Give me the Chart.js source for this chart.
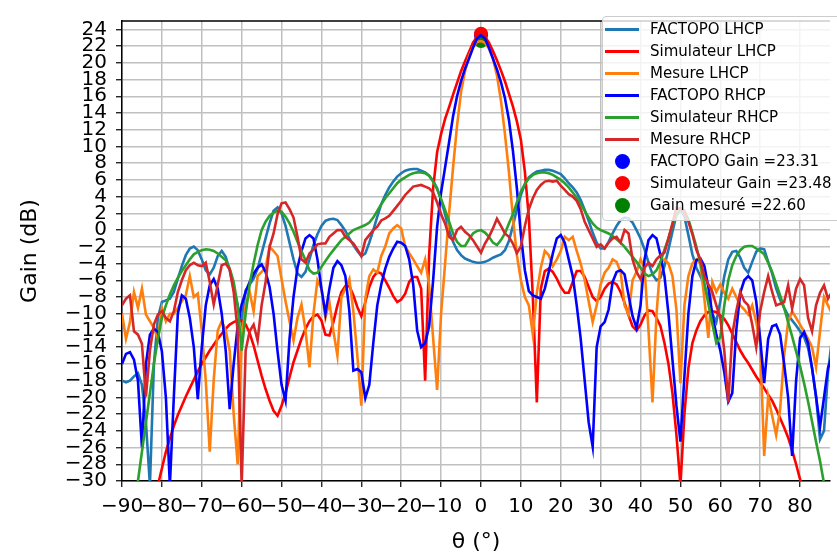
<!DOCTYPE html>
<html>
<head>
<meta charset="utf-8">
<title>Gain vs theta</title>
<script src="https://cdn.jsdelivr.net/npm/chart.js@4.4.1/dist/chart.umd.min.js"></script>
<style>
  html, body { margin: 0; padding: 0; background: #fff; overflow: hidden; }
  #wrap { position: relative; width: 837px; height: 555px; overflow: hidden; }
  #legend {
    position: absolute; left: 602px; top: 16px; width: 260px;
    padding: 1px 0 4px 0;
    background: rgba(255,255,255,0.8);
    border: 1px solid #cccccc; border-radius: 4px;
    font-family: 'DejaVu Sans', sans-serif; font-size: 15px; color: #000;
  }
  #legend .row { height: 22px; display: flex; align-items: center; white-space: nowrap; }
  #legend .handle { position: relative; width: 34px; height: 22px; margin-left: 2px; flex: none; }
  #legend .line { position: absolute; left: 0; right: 0; top: 10px; height: 2.7px; }
  #legend .dot { position: absolute; left: 10px; top: 4px; width: 15px; height: 15px; border-radius: 50%; }
  #legend .txt { margin-left: 11px; }
</style>
</head>
<body>
<div id="wrap">
  <canvas id="gainChart" width="837" height="555"></canvas>
  <div id="legend"></div>
</div>
<script>
// ---- data ----
const theta = [
  -90,-89,-88,-87,-86,-85,-84,-83,-82,-81,
  -80,-79,-78,-77,-76,-75,-74,-73,-72,-71,
  -70,-69,-68,-67,-66,-65,-64,-63,-62,-61,
  -60,-59,-58,-57,-56,-55,-54,-53,-52,-51,
  -50,-49,-48,-47,-46,-45,-44,-43,-42,-41,
  -40,-39,-38,-37,-36,-35,-34,-33,-32,-31,
  -30,-29,-28,-27,-26,-25,-24,-23,-22,-21,
  -20,-19,-18,-17,-16,-15,-14,-13,-12,-11,
  -10,-9,-8,-7,-6,-5,-4,-3,-2,-1,
  0,1,2,3,4,5,6,7,8,9,
  10,11,12,13,14,15,16,17,18,19,
  20,21,22,23,24,25,26,27,28,29,
  30,31,32,33,34,35,36,37,38,39,
  40,41,42,43,44,45,46,47,48,49,
  50,51,52,53,54,55,56,57,58,59,
  60,61,62,63,64,65,66,67,68,69,
  70,71,72,73,74,75,76,77,78,79,
  80,81,82,83,84,85,86,87,88
];

const factopoLhcp = [
  -18,-18.2,-18,-17.5,-17.1,-18.5,-23,-30.5,-16,-10.5,
  -8.6,-8.4,-8.2,-7.4,-5.8,-4.3,-3,-2.2,-1.96,-2.4,
  -3.5,-4.8,-5.3,-4.5,-3.1,-2.5,-3.2,-4.8,-7,-9,
  -11,-7.2,-6.5,-5.8,-4.6,-2.8,-1,0.8,2.3,2.7,
  2,0.5,-1.5,-3.5,-5.2,-5.6,-5,-3.5,-1.8,-0.5,
  0.5,1.1,1.3,1.35,1.2,0.6,-0.1,-1,-1.8,-2.5,
  -3.1,-2.8,-1.5,0,1.6,3.1,4.2,5.1,5.8,6.4,
  6.8,7.1,7.25,7.3,7.3,7.1,6.9,6.5,5.9,5,
  3.6,1.9,0,-1.4,-2.4,-3,-3.4,-3.6,-3.8,-3.9,
  -3.9,-3.8,-3.6,-3.3,-3.1,-2.9,-2.4,-1.3,0.5,2.5,
  4.2,5.5,6.3,6.7,7,7.1,7.2,7.2,7.1,6.9,
  6.7,6.2,5.6,5.1,4.5,3.6,2.4,1.1,-0.3,-1.5,
  -2.2,-2.2,-1.4,-0.4,0.5,1.2,1.5,1.4,0.9,0,
  -1,-2.3,-3.9,-5.3,-6,-5.7,-4.3,-2.3,-0.2,1.8,
  2.6,1.6,-0.6,-2.9,-4.5,-5.5,-6.6,-8.3,-10,-11,
  -8.5,-5.5,-3.5,-2.6,-2.5,-3.3,-4.5,-5.1,-3.8,-2.6,
  -2.2,-2.3,-3.8,-5.2,-7,-8.3,-9.3,-10.2,-10.8,-11.4,
  -12.1,-12.8,-14.1,-16.5,-19.9,-25,-24,-17,-13
];

const simLhcp = [
  -40,-39,-38,-37,-36,-35,-34,-33,-32,-30.5,
  -28.5,-26.5,-24.9,-23.4,-22.1,-21,-19.9,-18.9,-17.9,-16.9,
  -16,-15.2,-14.4,-13.7,-13,-12.4,-11.8,-11.3,-11,-10.8,
  -10.8,-11.3,-12.3,-13.8,-15.6,-17.4,-19,-20.4,-21.6,-22.2,
  -21,-19.5,-17.6,-15.8,-14.4,-13,-11.8,-10.9,-10.3,-10.1,
  -10.8,-12.5,-12.6,-11,-9,-7.4,-6.7,-6.7,-7.8,-9.2,
  -10.3,-8.6,-6.8,-5.6,-5,-5.2,-6,-6.9,-7.9,-8.6,
  -8.3,-7.6,-6.2,-5.6,-5.6,-7,-18,-3,5,9.3,
  11.5,13.3,14.7,16.2,17.6,19,20.2,21.3,22.4,23.1,
  23.5,23.1,22.4,21.4,20.3,19.1,17.8,16.3,14.8,13,
  10.8,7,1.5,-8,-20.6,-7,-4.9,-4.6,-5,-5.8,
  -6.8,-7.5,-7.5,-6.2,-4.9,-4.9,-5.6,-6.8,-8,-8.5,
  -8,-7,-6.4,-6.2,-6.5,-7.4,-8.7,-10.2,-11.5,-12,
  -11.3,-10.2,-9.6,-9.7,-10.5,-11.5,-13.5,-16,-19.5,-24.5,
  -30.5,-22,-16.5,-13.5,-12,-10.9,-10.2,-9.8,-9.7,-9.8,
  -10.2,-10.6,-11.4,-12.4,-13.4,-14.4,-15.2,-15.9,-16.7,-17.5,
  -18.2,-18.9,-19.7,-20.4,-21.4,-22.5,-23.6,-24.8,-26.3,-28,
  -29.8,-31.5,-33,-34.5,-36,-37.5,-39,-40,-41
];

const mesLhcp = [
  -10,-13,-11,-7.4,-9.3,-7,-10.1,-10.9,-11.7,-13,
  -9.3,-10.9,-10,-10,-9.3,-8.5,-7.8,-5.5,-8,-7.6,
  -12,-18,-26.5,-17.9,-12,-10.9,-12,-14.4,-22,-28,
  -13,-9,-7.4,-9.7,-5.5,-5,-4.5,-2,-2.5,-3.1,
  -5.85,-8.5,-10.9,-13.2,-10.5,-8.9,-12,-16.4,-10,-6,
  -7,-10.5,-8.6,-12.1,-15,-8,-7,-5.85,-9.7,-15,
  -21,-8.2,-5.5,-4.7,-5.1,-3.1,-1.96,-0.4,0.2,0.6,
  0.2,-1.96,-2.75,-3.5,-4.3,-5.1,-3.5,-6.6,-12.9,-19.1,
  -10,-4,2,7.5,12.5,16.5,19,20.8,21.9,22.5,
  22.6,22.4,21.7,20.5,18.5,15.5,11.5,7,1.5,-3,
  -6,-8,-9,-12.5,-7.5,-4.5,-2.5,-3,-4.3,-3.5,
  -2.5,-0.8,-1.2,-0.8,-2.5,-4,-6,-8.5,-11,-9,
  -6.5,-5.1,-4.5,-3.5,-3.8,-5,-9,-10.1,-6,-5,
  -3.5,-4.5,-12,-20.6,-10.1,-3.9,-3.5,-4,-5.5,-9.5,
  -18.3,-9,-5.5,-4,-3.5,-4,-8.2,-12.9,-6.2,-7.4,
  -6.5,-7.5,-8.2,-7,-8,-9,-9.5,-10.1,-9,-11,
  -13.6,-27,-19.9,-22.2,-24.5,-21.4,-15,-11,-9.7,-10.5,
  -11.3,-12.1,-13,-14,-16.4,-12.1,-8,-9,-10
];

const factopoRhcp = [
  -16,-14.8,-14.6,-15.5,-18,-26,-16,-12.5,-11.8,-12.2,
  -14.5,-20,-30.5,-19.9,-10,-7.8,-8.2,-10.5,-14,-20.2,
  -14,-9,-6.6,-5.85,-7,-10,-14.4,-21.4,-16,-11.5,
  -8.9,-7.4,-6.2,-5.2,-4.5,-4.1,-5,-6.8,-10,-14.5,
  -18.5,-20.4,-13,-8,-4.5,-2.5,-1,-0.6,-1,-3.5,
  -7,-10,-7,-4.5,-3.7,-4.2,-5.5,-9.7,-16.8,-16.6,
  -17,-20.1,-18.5,-13.5,-9,-6.5,-4.6,-3.2,-2.2,-1.4,
  -1.5,-1.9,-3.5,-6.5,-12,-14,-13.5,-11.5,-6,0.4,
  4.5,7.5,10.5,13.6,16,17.8,19.3,20.5,21.8,22.9,
  23.3,22.9,21.8,20.5,19.2,17.7,15.8,13.2,9.5,5,
  -0.5,-4.8,-7.3,-7.8,-8,-8.2,-7,-5,-2.8,-1,
  -0.6,-1.5,-3.5,-5.5,-9,-13,-18,-23,-25.9,-14,
  -11.5,-11,-9.5,-6.2,-5,-4.8,-5.3,-7.8,-10.3,-11.7,
  -9,-3.5,-1.2,-0.6,-1,-3,-5.5,-10,-15.5,-21,
  -25.3,-17.5,-10,-5.5,-3.6,-3.4,-4.3,-6.8,-10.1,-12.5,
  -14.4,-17,-20.5,-19.5,-12,-7.5,-6,-5.5,-6,-8.5,
  -13,-18.3,-13,-11.5,-11.3,-12.5,-16,-20,-27,-18,
  -12.9,-12.2,-13.5,-16.5,-19.9,-23.5,-20,-16.5,-15
];

const simRhcp = [
  -44,-41,-38,-34,-30,-26.5,-23,-19.5,-16,-13,
  -10.5,-9,-7.7,-6.6,-5.7,-4.9,-4.2,-3.5,-2.9,-2.6,
  -2.4,-2.3,-2.35,-2.5,-2.8,-3.2,-3.6,-4.6,-6.2,-9,
  -14.4,-10,-6.5,-4,-1.8,0,1,1.7,2.1,2.3,
  2.2,1.6,0.8,-0.2,-1.4,-2.5,-3.6,-4.8,-5.2,-5.1,
  -4.4,-3.7,-3,-2.4,-1.8,-1.2,-0.8,-0.4,0,0.2,
  0.4,0.6,0.9,1.5,2.3,3.1,3.8,4.4,5,5.6,
  6,6.3,6.6,6.8,6.9,6.9,6.8,6.5,5.8,4.9,
  3.7,2.4,1,-0.4,-1.4,-1.9,-1.9,-1.1,-0.4,-0.1,
  0,-0.3,-0.8,-1.5,-1.8,-1.2,-0.4,0.8,1.9,3.3,
  4.6,5.5,6.2,6.6,6.8,6.9,6.9,6.8,6.6,6.3,
  6,5.6,5.1,4.5,3.9,3.1,2.3,1.5,0.8,0.3,
  0,-0.2,-0.4,-0.7,-1.1,-1.5,-2,-2.6,-3.2,-3.8,
  -4.5,-5.2,-5.5,-5.3,-4.8,-3.8,-2.35,-1,0.6,1.8,
  2.3,2.2,1.3,-0.3,-2,-4,-6.3,-8.8,-11.2,-13.5,
  -12.8,-9,-6,-4.2,-3.1,-2.4,-2,-1.9,-1.9,-2.2,
  -2.5,-2.9,-3.9,-5,-6.4,-7.8,-9.3,-11,-12.7,-14.5,
  -16.3,-18.3,-20.5,-22.9,-25.3,-27.6,-30.3,-33,-36
];

const mesRhcp = [
  -9,-8.2,-7.8,-12.1,-12.5,-13.6,-19.9,-14.4,-11.3,-10.1,
  -9.7,-10.5,-10.9,-9.7,-7.4,-6,-4.8,-4.2,-3.9,-4.2,
  -4.3,-3.9,-6.2,-8.9,-6.5,-4.2,-4,-4.7,-7.4,-12.1,
  -30.5,-14.4,-12.1,-11.3,-13.2,-9,-6.2,-2,-0.4,1.9,
  3.2,3.3,2.5,1.5,-0.8,-3.5,-3.9,-2.8,-2.35,-1.7,
  -1.6,-1.6,-0.8,-0.4,0,0,-0.8,-1.2,-1.6,-2.3,
  -3.1,-1.2,-0.6,0,0.4,1.15,1.4,1.7,2.3,2.9,
  3.5,4.2,4.7,5.2,5.3,5.4,5.2,5,4.5,3.3,
  1.9,0.8,-0.8,-1.2,0,0.4,-0.2,-0.6,-1.2,-1.96,
  -2.7,-1.6,-0.8,0.2,1.35,0.5,-0.4,-0.8,-1.6,-2.75,
  -1.96,0.5,2.5,3.8,4.8,5.4,5.8,5.9,5.8,5.9,
  5.3,4.8,4.3,4,3.5,2.5,1,0,-1,-2,
  -1.7,-2.2,-1.5,-1,-0.8,-1.5,0,-0.4,-3.5,-5,
  -5.85,-4.5,-3.9,-4.3,-3.5,-3,-2.7,-1,0.8,2.7,
  2.5,2.3,1,-0.5,-2.35,-3.5,-5.5,-6.5,-7.4,-9,
  -10.5,-14.4,-20.6,-12.5,-9.7,-7.4,-8.5,-9,-11.3,-14,
  -9.7,-7.4,-5.5,-7.4,-9,-8.8,-8.6,-6.6,-9.4,-7,
  -5.85,-6.6,-10.5,-12.1,-9,-7.5,-6.6,-8.2,-7.4
];

// peak gains at theta = 0
const gainLabels = ['FACTOPO Gain =23.31', 'Simulateur Gain =23.48', 'Gain mesuré =22.60'];
const gainValues = [23.31, 23.48, 22.60];
const gainColors = ['#0000ff', '#ff0000', '#008000'];

// axis ticks
const xTicks = [-90,-80,-70,-60,-50,-40,-30,-20,-10,0,10,20,30,40,50,60,70,80];
const yTicks = [-30,-28,-26,-24,-22,-20,-18,-16,-14,-12,-10,-8,-6,-4,-2,0,2,4,6,8,10,12,14,16,18,20,22,24];

const curves = [
  { label: 'FACTOPO LHCP', values: factopoLhcp, color: '#1f77b4' },
  { label: 'Simulateur LHCP', values: simLhcp, color: '#ff0000' },
  { label: 'Mesure LHCP', values: mesLhcp, color: '#ff7f0e' },
  { label: 'FACTOPO RHCP', values: factopoRhcp, color: '#0000ff' },
  { label: 'Simulateur RHCP', values: simRhcp, color: '#2ca02c' },
  { label: 'Mesure RHCP', values: mesRhcp, color: '#d62728' }
];

// ---- build datasets ----
const datasets = [];
curves.forEach((c, i) => {
  datasets.push({
    label: c.label,
    data: theta.map((t, k) => ({ x: t, y: c.values[k] })),
    borderColor: c.color,
    backgroundColor: c.color,
    borderWidth: 2.6,
    pointRadius: 0,
    tension: 0,
    clip: 0,
    order: 20 - i,
    kind: 'line'
  });
});
// gain markers sit under the curves
gainValues.forEach((g, i) => {
  datasets.push({
    label: gainLabels[i],
    data: [{ x: 0, y: g }],
    showLine: false,
    pointRadius: 7,
    pointBorderWidth: 0,
    pointBackgroundColor: gainColors[i],
    borderColor: gainColors[i],
    backgroundColor: gainColors[i],
    clip: false,
    order: 40 - i,
    kind: 'dot'
  });
});

const minus = v => (v < 0 ? '\u2212' + Math.abs(v) : String(v));

// draws the top spine of the frame
const frameTop = {
  id: 'frameTop',
  afterDatasetsDraw(chart) {
    const { ctx, chartArea } = chart;
    ctx.save();
    ctx.strokeStyle = '#000';
    ctx.lineWidth = 1.5;
    ctx.beginPath();
    ctx.moveTo(chartArea.left, chartArea.top);
    ctx.lineTo(chartArea.right, chartArea.top);
    ctx.stroke();
    ctx.restore();
  }
};

Chart.defaults.font.family = "'DejaVu Sans', sans-serif";
Chart.defaults.color = '#000';

const chart = new Chart(document.getElementById('gainChart'), {
  type: 'line',
  data: { datasets },
  options: {
    responsive: false,
    animation: false,
    events: [],
    layout: { padding: { top: 9, right: 0, left: 0, bottom: 0 } },
    plugins: { legend: { display: false }, tooltip: { enabled: false } },
    scales: {
      x: {
        type: 'linear',
        min: -90,
        max: 87.5,
        afterBuildTicks: s => { s.ticks = xTicks.map(v => ({ value: v })); },
        afterFit: s => { s.height = 74; },
        ticks: { callback: minus, font: { size: 20 }, padding: 8, maxRotation: 0, autoSkip: false },
        grid: { color: '#c0c0c0', lineWidth: 1.5, tickColor: '#000', tickLength: 6, tickWidth: 1.2 },
        border: { display: true, color: '#000', width: 1.5 },
        title: { display: true, text: 'θ (°)', font: { size: 22 }, padding: { top: 1, bottom: 0 } }
      },
      y: {
        type: 'linear',
        min: -30,
        max: 25,
        afterBuildTicks: s => { s.ticks = yTicks.map(v => ({ value: v })); },
        afterFit: s => { s.width = 122; },
        ticks: { callback: minus, font: { size: 20 }, padding: 9, autoSkip: false },
        grid: { color: '#c0c0c0', lineWidth: 1.5, tickColor: '#000', tickLength: 6, tickWidth: 1.2 },
        border: { display: true, color: '#000', width: 1.5 },
        title: { display: true, text: 'Gain (dB)', font: { size: 22 }, padding: { top: 17, bottom: 0 } }
      }
    }
  },
  plugins: [frameTop]
});

// ---- html legend built from the datasets (curves first, then markers) ----
const legend = document.getElementById('legend');
chart.data.datasets.forEach(ds => {
  const row = document.createElement('div');
  row.className = 'row';
  const handle = document.createElement('span');
  handle.className = 'handle';
  const mark = document.createElement('span');
  mark.className = ds.kind === 'dot' ? 'dot' : 'line';
  mark.style.background = ds.borderColor;
  handle.appendChild(mark);
  const txt = document.createElement('span');
  txt.className = 'txt';
  txt.textContent = ds.label;
  row.appendChild(handle);
  row.appendChild(txt);
  legend.appendChild(row);
});
</script>
</body>
</html>
